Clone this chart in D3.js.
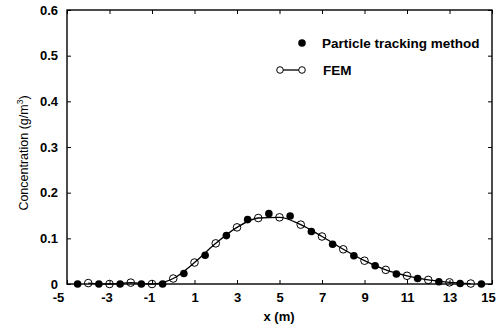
<!DOCTYPE html>
<html><head><meta charset="utf-8">
<script src="https://cdn.jsdelivr.net/npm/d3@7"></script>
<style>body{margin:0;background:#fff}svg{display:block}text{font-family:"Liberation Sans",Arial,sans-serif;fill:#000}</style>
</head><body><svg id="c" width="500" height="332"></svg>
<script>
const ptX = [-4.5,-3.5,-2.5,-1.5,-0.5,0.5,1.5,2.5,3.5,4.5,5.5,6.5,7.5,8.5,9.5,10.5,11.5,12.5,13.5,14.5];
const ptY = [0,0,0,0,0,0.023,0.063,0.106,0.141,0.154,0.149,0.115,0.087,0.062,0.040,0.022,0.012,0.005,0.001,0];
const femX = [-4,-3,-2,-1,0,1,2,3,4,5,6,7,8,9,10,11,12,13,14];
const femY = [0.002,0,0.003,0,0.012,0.047,0.089,0.124,0.1445,0.146,0.130,0.104,0.076,0.051,0.031,0.018,0.009,0.0036,0.001];
const xTicks = [-5,-3,-1,1,3,5,7,9,11,13,15];
const yTicks = [0,0.1,0.2,0.3,0.4,0.5,0.6];
const legendLabels = ["Particle tracking method","FEM"];

const svg = d3.select("#c");
const L=67,R=492,T=10,B=284;
const x = d3.scaleLinear().domain([-5,15]).range([L,R]);
const y = d3.scaleLinear().domain([0,0.6]).range([B,T]);

svg.append("rect").attr("x",L).attr("y",T).attr("width",R-L).attr("height",B-T)
  .attr("fill","none").attr("stroke","#000").attr("stroke-width",1.4);

const fmtY = d=> d===0?"0":d.toFixed(1);
const fmtX = d=> String(d);
const gx = svg.append("g").attr("transform",`translate(0,${B})`)
  .call(d3.axisBottom(x).tickValues(xTicks).tickSize(-4).tickPadding(9).tickFormat(fmtX));
const gxt = svg.append("g").attr("transform",`translate(0,${T})`)
  .call(d3.axisTop(x).tickValues(xTicks).tickSize(-4).tickFormat(""));
const gy = svg.append("g").attr("transform",`translate(${L},0)`)
  .call(d3.axisLeft(y).tickValues(yTicks).tickSize(-4).tickPadding(9).tickFormat(fmtY));
const gyr = svg.append("g").attr("transform",`translate(${R},0)`)
  .call(d3.axisRight(y).tickValues(yTicks).tickSize(-4).tickFormat(""));
[gx,gxt,gy,gyr].forEach(g=>{
  g.select(".domain").remove();
  g.selectAll(".tick line").attr("stroke","#000").attr("stroke-width",1);
  g.selectAll("text").style("font-size","13px").style("font-weight","bold").attr("fill","#000");
});
gx.selectAll(".tick text").attr("dx", d=> d===-5 ? -9 : d<0 ? -3 : (d===15?-4:0));

svg.append("text").attr("x",279).attr("y",321).attr("text-anchor","middle")
  .style("font-size","13px").style("font-weight","bold").text("x (m)");
const yl = svg.append("text").attr("transform","translate(28,153) rotate(-90)")
  .attr("text-anchor","middle").style("font-size","12.5px");
yl.append("tspan").text("Concentration (g/m");
yl.append("tspan").attr("dy",-5).style("font-size","8.5px").text("3");
yl.append("tspan").attr("dy",5).text(")");

const line = d3.line().x((d,i)=>x(femX[i])).y(d=>y(d)).curve(d3.curveMonotoneX);
svg.append("path").datum(femY).attr("d",line).attr("fill","none").attr("stroke","#000").attr("stroke-width",1.3);

svg.append("g").selectAll("circle").data(femY).join("circle")
  .attr("cx",(d,i)=>x(femX[i])).attr("cy",d=>y(d)).attr("r",3.8)
  .attr("fill","none").attr("stroke","#000").attr("stroke-width",1);

svg.append("g").selectAll("circle").data(ptY).join("circle")
  .attr("cx",(d,i)=>x(ptX[i])).attr("cy",d=>y(d)).attr("r",3.8).attr("fill","#000");

const lg = svg.append("g");
lg.append("circle").attr("cx",302).attr("cy",43).attr("r",3.8).attr("fill","#000");
lg.append("text").attr("x",322).attr("y",48).style("font-size","13.5px").style("font-weight","bold").text(legendLabels[0]);
lg.append("line").attr("x1",280).attr("x2",302).attr("y1",70).attr("y2",70).attr("stroke","#000").attr("stroke-width",1.3);
[280,302].forEach(cx=>lg.append("circle").attr("cx",cx).attr("cy",70).attr("r",3.3).attr("fill","#fff").attr("stroke","#000"));
lg.append("text").attr("x",323).attr("y",75).style("font-size","13.5px").style("font-weight","bold").text(legendLabels[1]);
</script></body></html>
